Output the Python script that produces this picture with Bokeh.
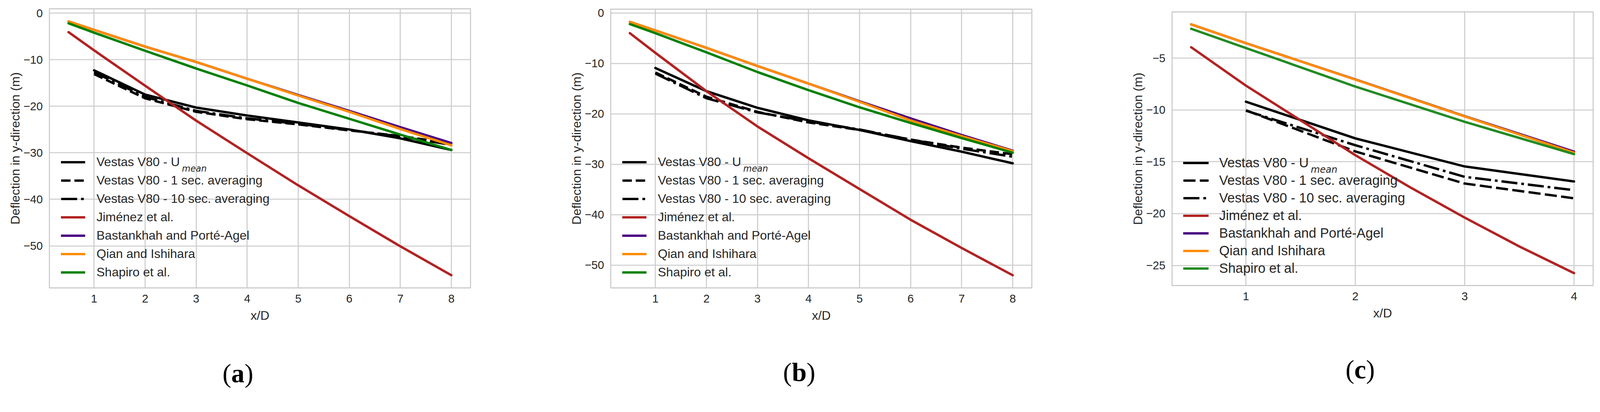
from bokeh.plotting import figure
from bokeh.models import Legend, LegendItem, Label, FixedTicker, CustomJSTickFormatter, Range1d, Div
from bokeh.layouts import row, column
from bokeh.embed import file_html
from bokeh.resources import INLINE

# ---------------- data ----------------
X_MODEL = [0.5, 1, 2, 3, 4, 5, 6, 7, 8]
X_MEAS = [1, 2, 3, 4, 5, 6, 7, 8]
X_MODEL_C = [0.5, 1, 2, 3, 4]
X_JIM_C = [0.5, 1, 1.5, 2, 2.5, 3, 3.5, 4]
X_MEAS_C = [1, 2, 3, 4]

LABELS = ["Vestas V80 - U", "Vestas V80 - 1 sec. averaging", "Vestas V80 - 10 sec. averaging",
          "Jiménez et al.", "Bastankhah and Porté-Agel", "Qian and Ishihara", "Shapiro et al."]
SUBSCRIPT = "mean"
X_LABEL = "x/D"
Y_LABEL = "Deflection in y-direction (m)"
TAGS = ["a", "b", "c"]

A_MEAN = [-12.3, -17.5, -20.3, -22.0, -23.5, -25.0, -26.9, -29.4]
A_AVG1 = [-13.1, -18.3, -21.2, -22.8, -23.9, -25.2, -26.4, -28.0]
A_AVG10 = [-12.7, -18.0, -21.0, -22.6, -23.8, -25.1, -26.5, -28.3]
A_JIM = [-4.1, -8.0, -15.6, -23.1, -30.1, -37.0, -43.6, -50.1, -56.3]
A_BAST = [-1.8, -3.6, -7.2, -10.5, -14.1, -17.6, -21.0, -24.5, -27.9]
A_QIAN = [-1.8, -3.6, -7.2, -10.5, -14.1, -17.7, -21.2, -24.9, -28.4]
A_SHAP = [-2.2, -4.2, -8.1, -11.9, -15.55, -19.3, -22.7, -26.1, -29.4]

B_MEAN = [-10.9, -15.5, -18.8, -21.3, -23.2, -25.4, -27.5, -29.8]
B_AVG1 = [-11.8, -16.6, -19.6, -21.7, -23.2, -25.1, -26.7, -28.0]
B_AVG10 = [-12.0, -16.9, -19.7, -21.5, -23.1, -25.1, -26.9, -28.5]
B_JIM = [-4.0, -7.9, -15.5, -22.5, -28.8, -34.9, -41.0, -46.6, -52.0]
B_BAST = [-1.75, -3.45, -6.9, -10.5, -14.0, -17.5, -20.9, -24.2, -27.3]
B_QIAN = [-1.75, -3.45, -6.9, -10.5, -14.0, -17.6, -21.3, -24.4, -27.4]
B_SHAP = [-2.2, -4.0, -7.8, -11.7, -15.3, -18.7, -21.8, -24.8, -27.7]

C_MEAN = [-9.2, -12.74, -15.45, -16.9]
C_AVG1 = [-10.03, -14.0, -17.1, -18.52]
C_AVG10 = [-10.07, -13.4, -16.45, -17.74]
C_JIM = [-3.95, -7.65, -11.0, -14.36, -17.45, -20.38, -23.17, -25.74]
C_BAST = [-1.74, -3.55, -7.05, -10.6, -14.02]
C_QIAN = [-1.74, -3.55, -7.07, -10.62, -14.12]
C_SHAP = [-2.17, -4.02, -7.74, -11.14, -14.26]

X_TICKS_8 = [1, 2, 3, 4, 5, 6, 7, 8]
X_TICKS_4 = [1, 2, 3, 4]
Y_TICKS_AB = [0, -10, -20, -30, -40, -50]
Y_TICKS_C = [-5, -10, -15, -20, -25]

# ---------------- geometry / styling ----------------
K = 16.0 / 17.0          # page px per picture px
M = 8                    # page margin
FIG_H = 850
DIV_H = 126
TEXT = "#262626"
GRID = "#cccccc"
SANS = "Liberation Sans"
ARIAL_W = {'V': 667, 'e': 556, 's': 500, 't': 278, 'a': 556, ' ': 278, '8': 556,
           '0': 556, '-': 333, 'U': 722}


def px(v):
    return v * K


def text_w(s, size):
    return sum(ARIAL_W.get(ch, 556) for ch in s) / 1000.0 * size


def padded(vals):
    lo, hi = min(vals), max(vals)
    d = 0.05 * (hi - lo)
    return Range1d(lo - d, hi + d)


# frame edges (picture px) and layout per panel
PANELS = [
    dict(tag=TAGS[0], xm=X_MODEL, xj=X_MODEL, xs=X_MEAS, mean=A_MEAN, avg1=A_AVG1, avg10=A_AVG10,
         jim=A_JIM, bast=A_BAST, qian=A_QIAN, shap=A_SHAP, xt=X_TICKS_8, yt=Y_TICKS_AB,
         start=8, W=1338, fl=142.3, fr=1287.7, ft=32.0, fb=790.8, green="#008000",
         lx=32, ly=17, gw=66, ls=31, ih=49.5, lfont=34, dash="24 10",
         tag_cx=656, tag_cy=1030),
    dict(tag=TAGS[1], xm=X_MODEL, xj=X_MODEL, xs=X_MEAS, mean=B_MEAN, avg1=B_AVG1, avg10=B_AVG10,
         jim=B_JIM, bast=B_BAST, qian=B_QIAN, shap=B_SHAP, xt=X_TICKS_8, yt=Y_TICKS_AB,
         start=1346, W=1365, fl=1669.0, fr=2814.3, ft=32.8, fb=791.0, green="#008000",
         lx=32, ly=17, gw=66, ls=31, ih=49.5, lfont=34, dash="24 10",
         tag_cx=2182, tag_cy=1027),
    dict(tag=TAGS[2], xm=X_MODEL_C, xj=X_JIM_C, xs=X_MEAS_C, mean=C_MEAN, avg1=C_AVG1, avg10=C_AVG10,
         jim=C_JIM, bast=C_BAST, qian=C_QIAN, shap=C_SHAP, xt=X_TICKS_4, yt=Y_TICKS_C,
         start=2711, W=1384, fl=3196.0, fr=4341.0, ft=40.3, fb=784.3, green="#228b22",
         lx=31, ly=22, gw=69, ls=29, ih=48, lfont=36.5, dash="31 11",
         tag_cx=3708, tag_cy=1020),
]

LW = px(6.5)
minus_fmt = "return tick < 0 ? '\u2212' + Math.abs(tick) : String(tick);"


def make_panel(s):
    all_x = list(s["xm"]) + list(s["xj"]) + list(s["xs"])
    all_y = s["mean"] + s["avg1"] + s["avg10"] + s["jim"] + s["bast"] + s["qian"] + s["shap"]
    bl = round(px(s["fl"]) - s["start"])
    br = round(s["start"] + s["W"] - px(s["fr"]))
    bt = round(px(s["ft"]) - M)
    bb = round(M + FIG_H - px(s["fb"]))
    p = figure(width=s["W"], height=FIG_H, output_backend="svg", toolbar_location=None,
               x_range=padded(all_x), y_range=padded(all_y),
               min_border_left=bl, min_border_right=br, min_border_top=bt, min_border_bottom=bb)
    p.background_fill_color = "white"
    p.border_fill_color = "white"
    p.outline_line_color = GRID
    p.outline_line_width = px(3)
    p.grid.grid_line_color = GRID
    p.grid.grid_line_width = px(2.8)

    p.xaxis.ticker = FixedTicker(ticks=s["xt"])
    p.yaxis.ticker = FixedTicker(ticks=s["yt"])
    p.yaxis.formatter = CustomJSTickFormatter(code=minus_fmt)
    for ax in (p.xaxis[0], p.yaxis[0]):
        ax.axis_line_color = None
        ax.major_tick_line_color = None
        ax.minor_tick_line_color = None
        ax.major_label_text_font = SANS
        ax.major_label_text_font_size = f"{px(31):.1f}px"
        ax.major_label_text_color = TEXT
        ax.major_label_standoff = round(px(12))
        ax.axis_label_text_font = SANS
        ax.axis_label_text_font_size = f"{px(34):.1f}px"
        ax.axis_label_text_font_style = "normal"
        ax.axis_label_text_color = TEXT
    p.xaxis.axis_label_standoff = round(px(13))
    p.yaxis.axis_label_standoff = 0
    p.xaxis.axis_label = X_LABEL
    p.yaxis.axis_label = Y_LABEL

    r_mean = p.line(s["xs"], s["mean"], line_color="black", line_width=LW,
                    line_cap="round", line_join="round")
    r_a1 = p.line(s["xs"], s["avg1"], line_color="black", line_width=LW,
                  line_dash=s["dash"], line_cap="butt", line_join="round")
    r_a10 = p.line(s["xs"], s["avg10"], line_color="black", line_width=LW,
                   line_dash="41 10 7 10", line_cap="butt", line_join="round")
    r_jim = p.line(s["xj"], s["jim"], line_color="#b22222", line_width=LW,
                   line_cap="round", line_join="round")
    r_bast = p.line(s["xm"], s["bast"], line_color="#4b0082", line_width=LW,
                    line_cap="round", line_join="round")
    r_qian = p.line(s["xm"], s["qian"], line_color="#ff8c00", line_width=LW,
                    line_cap="round", line_join="round")
    r_shap = p.line(s["xm"], s["shap"], line_color=s["green"], line_width=LW,
                    line_cap="round", line_join="round")
    rends = [r_mean, r_a1, r_a10, r_jim, r_bast, r_qian, r_shap]

    lx, ly = round(px(s["lx"])), round(px(s["ly"]))
    gw, ls, ih = round(px(s["gw"])), round(px(s["ls"])), round(px(s["ih"]))
    lfont = px(s["lfont"])
    items = [LegendItem(label=lab, renderers=[r]) for lab, r in zip(LABELS, rends)]
    leg = Legend(items=items, location=(lx, ly), orientation="vertical",
                 padding=0, margin=0, spacing=0,
                 glyph_width=gw, glyph_height=ih, label_height=ih, label_standoff=ls,
                 label_text_font=SANS, label_text_font_size=f"{lfont:.1f}px",
                 label_text_color=TEXT,
                 border_line_alpha=0, background_fill_alpha=0)
    p.add_layout(leg)

    # subscript "mean" right after the first legend label
    n = len(LABELS)
    row1_center = ly + n * ih - ih / 2.0
    mx = lx + gw + ls + text_w(LABELS[0], lfont) + 3
    my = row1_center - 0.35 * lfont - px(5)
    p.add_layout(Label(x=mx, y=my, x_units="screen", y_units="screen", text=SUBSCRIPT,
                       text_font="DejaVu Sans", text_font_style="italic",
                       text_font_size=f"{0.7 * lfont:.1f}px", text_color=TEXT,
                       text_baseline="alphabetic", text_align="left"))

    fs = px(72)
    div_top = M + FIG_H
    cx = px(s["tag_cx"]) - s["start"]
    cy = px(s["tag_cy"]) - div_top
    pad_top = max(0, round(cy - 0.5875 * fs))
    html = (f'<div style="padding-top:{pad_top}px;margin-left:{round(cx - 65)}px;width:130px;'
            f'text-align:center;font-family:\'Liberation Serif\';font-size:{fs:.1f}px;'
            f'line-height:{fs:.1f}px;color:#000;">(<b>{s["tag"]}</b>)</div>')
    d = Div(text=html, width=s["W"], height=DIV_H, margin=0)
    return column(p, d, spacing=0)


layout = row(*[make_panel(s) for s in PANELS], spacing=0)
open("out.html", "w", encoding="utf-8").write(file_html(layout, INLINE))
